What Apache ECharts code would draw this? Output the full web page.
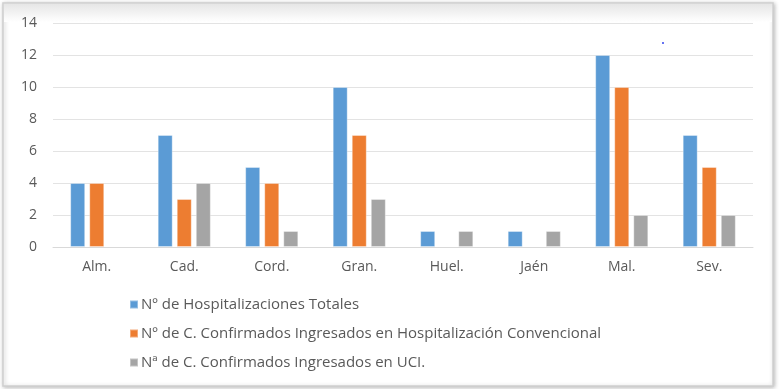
<!DOCTYPE html>
<html><head><meta charset="utf-8">
<script src="https://cdn.jsdelivr.net/npm/echarts@6/dist/echarts.min.js"></script>
<style>html,body{margin:0;padding:0;background:#fff}#c{width:780px;height:389px}</style>
</head><body><div id="c"></div>
<script>
const categories = ['Alm.', 'Cad.', 'Cord.', 'Gran.', 'Huel.', 'Jaén', 'Mal.', 'Sev.'];
const seriesNames = ['Nº de Hospitalizaciones Totales', 'Nº de C. Confirmados Ingresados en Hospitalización Convencional', 'Nª de C. Confirmados Ingresados en UCI.'];
const totales = [4, 7, 5, 10, 1, 1, 12, 7];
const convencional = [4, 3, 4, 7, 0, 0, 10, 5];
const uci = [0, 4, 1, 3, 1, 1, 2, 2];
const colors = ['#5B9BD5', '#ED7D31', '#A5A5A5'];
const FONT = 'Open Sans';
const chart = echarts.init(document.getElementById('c'), null, {renderer: 'canvas'});
const mk = (name, data, color) => ({
  name, type: 'bar', data: data.map(v => v === 0 ? null : v), barWidth: 15, barGap: '27%',
  itemStyle: {color, borderColor: 'rgba(255,255,255,0.35)', borderWidth: 1}
});
chart.setOption({
  animation: false,
  backgroundColor: '#fff',
  graphic: [
    {type: 'rect', z: -10, shape: {x: 3, y: 3, width: 770, height: 383},
     style: {fill: '#fff', stroke: '#d0d0d0', lineWidth: 1.5, shadowBlur: 4, shadowColor: 'rgba(0,0,0,0.25)', shadowOffsetX: 1, shadowOffsetY: 1}},
    {type: 'rect', z: -9, shape: {x: 4, y: 4, width: 768, height: 18},
     style: {fill: new echarts.graphic.LinearGradient(0, 0, 0, 1, [{offset: 0, color: '#e6e6e6'}, {offset: 1, color: '#ffffff'}])}},
    {type: 'circle', z: 5, shape: {cx: 663, cy: 43, r: 1}, style: {fill: '#3344ee'}}
  ],
  grid: {left: 53, right: 27, top: 23, bottom: 142, containLabel: false},
  legend: {
    orient: 'vertical', left: 124, top: 292, itemGap: 14, itemWidth: 8, itemHeight: 8,
    icon: 'rect', data: seriesNames,
    textStyle: {color: '#595959', fontFamily: FONT, fontSize: 15, padding: [0, 0, 0, -2]}
  },
  xAxis: {
    type: 'category', data: categories,
    axisLine: {lineStyle: {color: '#d9d9d9'}}, axisTick: {show: false},
    axisLabel: {color: '#595959', fontFamily: FONT, fontSize: 14, margin: 13}
  },
  yAxis: {
    type: 'value', min: 0, max: 14, interval: 2,
    axisLine: {show: false}, axisTick: {show: false},
    splitLine: {lineStyle: {color: '#e3e3e3'}},
    axisLabel: {color: '#595959', fontFamily: FONT, fontSize: 14, margin: 16}
  },
  series: [mk(seriesNames[0], totales, colors[0]), mk(seriesNames[1], convencional, colors[1]), mk(seriesNames[2], uci, colors[2])]
});
</script></body></html>
